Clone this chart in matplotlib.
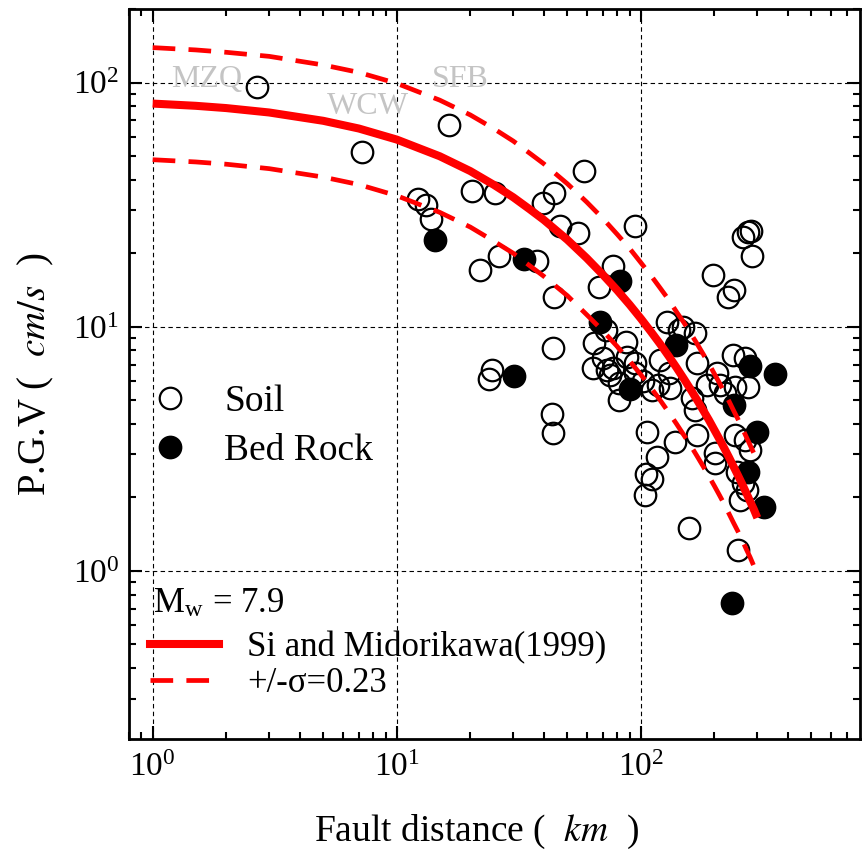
import matplotlib
matplotlib.use('Agg')
import matplotlib.pyplot as plt
from matplotlib.lines import Line2D

plt.rcParams['font.family'] = ['Liberation Serif', 'DejaVu Serif']
plt.rcParams['mathtext.fontset'] = 'stix'

# attenuation curve (Mw = 7.9)
curve_dist = [1, 1.5, 2, 3, 5, 7, 10, 15, 20, 25, 30, 35, 40, 50, 60, 70,
              80, 90, 100, 110, 120, 130, 140, 150, 160, 170, 180, 190,
              200, 210, 220, 230, 240, 250, 260, 270, 280, 290, 300]
curve_pgv = [82, 80.3, 78.6, 75.4, 69.7, 64.8, 58.4, 49.9, 43.4, 38.1, 33.9,
             30.3, 27.4, 22.7, 19.1, 16.3, 14.1, 12.3, 10.8, 9.54, 8.49,
             7.58, 6.80, 6.12, 5.53, 5.01, 4.55, 4.15, 3.78, 3.46, 3.17,
             2.91, 2.67, 2.46, 2.27, 2.09, 1.93, 1.79, 1.65]
curve_upper = [139, 136, 133, 128, 118, 110, 99.2, 84.7, 73.7, 64.7, 57.6,
               51.4, 46.5, 38.5, 32.4, 27.7, 23.9, 20.9, 18.3, 16.2, 14.4,
               12.9, 11.5, 10.4, 9.39, 8.51, 7.73, 7.05, 6.42, 5.88, 5.38,
               4.94, 4.53, 4.18, 3.85, 3.55, 3.28, 3.04, 2.80]
curve_lower = [48.3, 47.3, 46.3, 44.4, 41.0, 38.2, 34.4, 29.4, 25.6, 22.4,
               20.0, 17.8, 16.1, 13.4, 11.2, 9.6, 8.3, 7.24, 6.36, 5.62, 5.0,
               4.46, 4.0, 3.6, 3.26, 2.95, 2.68, 2.44, 2.23, 2.04, 1.87,
               1.71, 1.57, 1.45, 1.34, 1.23, 1.14, 1.05, 0.97]

# observed records
soil_dist = [2.68, 7.2, 16.4, 12.2, 13.2, 13.8, 20.4, 25.3, 21.9, 26.3,
             39.9, 44.1, 46.7, 55.3, 58.7, 37.6, 44.1, 67.2, 94.8, 76.6,
             72.1, 43.5, 64.4, 63.9, 87.1, 24.5, 23.9, 43.1, 43.8, 105.8,
             116.3, 105.1, 111.3, 103.8, 138, 170, 202, 202, 157, 249,
             285, 198, 240, 228, 262, 276, 283, 72.6, 74.8, 77.2,
             81, 81, 94.8, 102.5, 110.9, 118, 130, 128, 143, 167,
             132, 162, 167, 186, 205, 211, 170, 238, 268, 276,
             222, 244, 244, 268, 281, 247, 263, 272, 70.1, 87.9,
             94.8, 120, 149, 255]
soil_pgv = [96, 52, 67, 33.5, 31.6, 27.5, 36, 35.3, 17.1, 19.5,
            32, 35.3, 25.8, 24.2, 43.3, 18.6, 13.2, 14.6, 25.8, 17.7,
            9.7, 8.2, 8.56, 6.77, 8.64, 6.63, 6.09, 4.38, 3.67, 3.7,
            2.94, 2.49, 2.38, 2.04, 3.38, 3.59, 3.04, 2.76, 1.5, 1.22,
            19.4, 16.3, 14.1, 13.2, 23.4, 24.4, 24.6, 6.67, 6.36, 6.77,
            5.88, 5.02, 7.1, 5.97, 5.52, 5.78, 6.46, 10.5, 9.72, 9.42,
            5.61, 5.1, 4.57, 5.78, 6.46, 5.78, 7.1, 7.68, 7.44, 5.69,
            5.35, 5.69, 3.61, 3.44, 3.13, 2.55, 2.29, 2.15, 7.46, 7.54,
            6.48, 7.33, 10.0, 1.95]

rock_dist = [14.3, 33.2, 81.9, 67.7, 30.3, 90.4, 241, 299, 274, 318,
             139.5, 281, 355, 237]
rock_pgv = [22.6, 18.9, 15.4, 10.5, 6.26, 5.57, 4.79, 3.72, 2.53, 1.82,
            8.44, 6.88, 6.42, 0.74]

stations = ['MZQ', 'WCW', 'SFB']
station_dist = [1.67, 7.63, 18.2]
station_pgv = [103, 79.7, 103]

fig = plt.figure(figsize=(8.67, 8.51), dpi=100)
ax = fig.add_axes([0.1488, 0.1316, 0.8431, 0.8578])

soil, = ax.plot(soil_dist, soil_pgv, 'o', ms=15.5, mfc='none', mec='k',
                mew=1.6, label='Soil')
rock, = ax.plot(rock_dist, rock_pgv, 'o', ms=15.5, mfc='k', mec='k',
                mew=1.6, label='Bed Rock')

dash = (0, (4.8, 2.8))
ax.plot(curve_dist, curve_pgv, '-', color='red', lw=5.8, solid_capstyle='butt')
ax.plot(curve_dist, curve_upper, color='red', lw=3.4, ls=dash)
ax.plot(curve_dist, curve_lower, color='red', lw=3.4, ls=dash)

for name, d, v in zip(stations, station_dist, station_pgv):
    ax.text(d, v, name, color='#c4c4c4', fontsize=23, ha='center', va='center')

ax.set_xscale('log')
ax.set_yscale('log')
ax.set_xlim(0.8, 790)
ax.set_ylim(0.205, 200)

ax.grid(which='major', color='k', ls=(0, (4, 3)), lw=0.8)
ax.tick_params(which='both', direction='in', top=True, right=True,
               labelsize=24)
ax.tick_params(which='major', length=9.5, width=1.5)
ax.tick_params(which='minor', length=5, width=1.5)
ax.tick_params(axis='x', pad=10)
ax.tick_params(axis='y', pad=7)
for s in ax.spines.values():
    s.set_linewidth(2)

ax.set_xlabel(r'Fault distance (  $\mathit{km}$  )', fontsize=27,
              labelpad=21, x=0.475)
ax.set_ylabel(r'P.G.V (  $\mathit{cm/s}$  )', fontsize=28, labelpad=12)

leg1 = ax.legend(handles=[soil, rock], loc='center left',
                 bbox_to_anchor=(0.030, 0.428), frameon=False, fontsize=27,
                 handlelength=1.0, handletextpad=0.95, labelspacing=0.38,
                 borderpad=0, borderaxespad=0)
ax.add_artist(leg1)

ax.text(0.0328, 0.185, r'M$_\mathregular{w}$ = 7.9', transform=ax.transAxes,
        fontsize=25, ha='left', va='center')

h_mid = Line2D([], [], color='red', lw=5.8)
h_sig = Line2D([], [], color='red', lw=3.4, ls=dash)
ax.legend(handles=[h_mid, h_sig],
          labels=['Si and Midorikawa(1999)', '+/-σ=0.23'],
          loc='center left', bbox_to_anchor=(0.0287, 0.1005), frameon=False,
          fontsize=25, handlelength=2.0, handletextpad=0.8, labelspacing=0.08,
          borderpad=0, borderaxespad=0)

fig.savefig('out.png', dpi=100)
